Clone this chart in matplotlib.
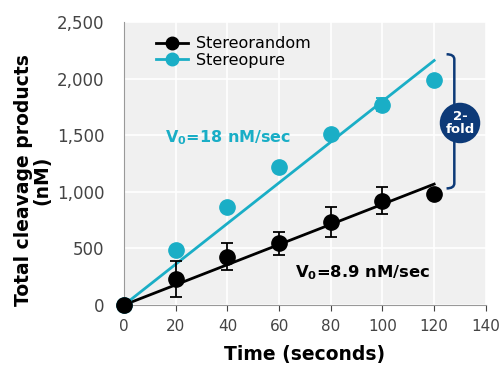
import numpy as np
import matplotlib
matplotlib.use('Agg')
import matplotlib.pyplot as plt
from matplotlib.path import Path
from matplotlib.patches import PathPatch

# Data
time = [0, 20, 40, 60, 80, 100, 120]
stereorandom = [0, 230, 425, 545, 735, 920, 980]
stereorandom_err = [0, 160, 120, 100, 130, 120, 0]
stereopure = [0, 490, 865, 1215, 1510, 1770, 1985]
stereopure_err = [0, 0, 0, 0, 0, 60, 0]
rate_random = 8.9
rate_pure = 18

cyan = '#1aaec6'
navy = '#0d3a78'

fig = plt.figure(figsize=(5.04, 3.67), dpi=100)
ax = fig.add_axes([0.246, 0.169, 0.718, 0.771])
ax.set_facecolor('#f0f0f0')
ax.grid(color='white', linewidth=1.2)
ax.set_axisbelow(True)

fit_t = np.array([0, 120])
ax.plot(fit_t, rate_random * fit_t, color='black', linewidth=2, zorder=2)
ax.plot(fit_t, rate_pure * fit_t, color=cyan, linewidth=2, zorder=2)

for y, err, c, z in [(stereopure, stereopure_err, cyan, 3), (stereorandom, stereorandom_err, 'black', 4)]:
    eb = ax.errorbar(time, y, yerr=err, fmt='o', color=c, markersize=11,
                     capsize=4, elinewidth=1.3, capthick=1.3, zorder=z)
    eb[0].set_clip_on(False)

# legend proxies
ax.plot([], [], '-o', color='black', linewidth=2, markersize=9, label='Stereorandom')
ax.plot([], [], '-o', color=cyan, linewidth=2, markersize=9, label='Stereopure')
ax.legend(loc='upper left', bbox_to_anchor=(0.05, 1.0), frameon=False, fontsize=11.5,
          handlelength=2.0, handletextpad=0.5, labelspacing=0.1)

ax.text(16, 1480, r'V$_\mathbf{0}$=18 nM/sec', color=cyan, fontsize=11.5, fontweight='bold',
        va='center')
ax.text(66, 290, r'V$_\mathbf{0}$=8.9 nM/sec', color='black', fontsize=11.8, fontweight='bold',
        va='center')

# curly bracket + 2-fold badge
bx = 127.8
verts = [(124.8, 2215), (bx, 2215), (bx, 2170),
         (bx, 1075),
         (bx, 1030), (124.8, 1030)]
codes = [Path.MOVETO, Path.CURVE3, Path.CURVE3, Path.LINETO, Path.CURVE3, Path.CURVE3]
ax.add_patch(PathPatch(Path(verts, codes), facecolor='none', edgecolor=navy, linewidth=1.8,
                       clip_on=False, zorder=5))
ax.scatter([130.0], [1608], s=850, color=navy, zorder=6, clip_on=False, edgecolors='none')
ax.text(130.0, 1608, '2-\nfold', color='white', fontsize=9.5, fontweight='bold', ha='center',
        va='center', linespacing=1.0, zorder=7)

ax.set_xlim(0, 140)
ax.set_ylim(0, 2500)
ax.set_xticks(range(0, 141, 20))
ax.set_yticks(range(0, 2501, 500))
ax.yaxis.set_major_formatter(matplotlib.ticker.StrMethodFormatter('{x:,.0f}'))
ax.tick_params(colors='#444444', length=4)
ax.tick_params(axis='x', labelsize=11, pad=6)
ax.tick_params(axis='y', length=0, pad=14, labelsize=12)
for s in ['top', 'right']:
    ax.spines[s].set_visible(False)
for s in ['left', 'bottom']:
    ax.spines[s].set_color('#999999')

ax.set_xlabel('Time (seconds)', fontsize=13.5, fontweight='bold', labelpad=8)
ax.set_ylabel('Total cleavage products\n(nM)', fontsize=13.5, fontweight='bold',
              linespacing=0.95)
ax.yaxis.set_label_coords(-0.2, 0.44)

fig.savefig('out.png', dpi=100)
